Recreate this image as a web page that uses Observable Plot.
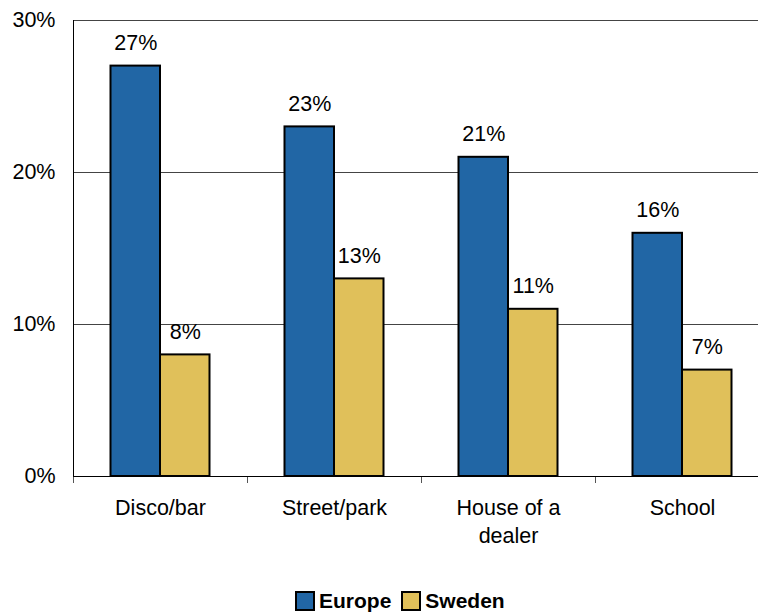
<!DOCTYPE html>
<html>
<head>
<meta charset="utf-8">
<script src="https://cdn.jsdelivr.net/npm/d3@7"></script>
<script src="https://cdn.jsdelivr.net/npm/@observablehq/plot@0.6"></script>
<style>
  html, body { margin: 0; padding: 0; background: white; }
  #wrap { position: relative; width: 758px; height: 613px; }
  #legend { position: absolute; left: 295px; top: 589px; height: 24px; display: flex; align-items: center;
    font-family: "Liberation Sans", Arial, sans-serif; font-weight: bold; font-size: 21px; color: #000; }
  .sw { width: 16px; height: 16px; border: 2px solid #000; display: inline-block; margin-right: 4px; }
  .item { display: flex; align-items: center; margin-right: 10px; }
</style>
</head>
<body>
<div id="wrap"><div id="chart"></div><div id="legend"></div></div>
<script>
const categories = ["Disco/bar", "Street/park", "House of a\ndealer", "School"];
const europe = [27, 23, 21, 16];
const sweden = [8, 13, 11, 7];
const yTicks = [0, 10, 20, 30];
const seriesNames = ["Europe", "Sweden"];
const seriesColors = ["#2166A5", "#E0C05A"];

const width = 758, height = 560, marginLeft = 73, marginRight = -11, marginTop = 20, marginBottom = 84;
const step = (width - marginLeft - marginRight) / categories.length;
const barW = 49.5;
const outer = step / 2 - barW;

const euRows = categories.map((c, i) => ({category: c, value: europe[i]}));
const swRows = categories.map((c, i) => ({category: c, value: sweden[i]}));
const font = 21.5;

const chart = Plot.plot({
  width, height, marginLeft, marginRight, marginTop, marginBottom,
  style: {fontFamily: "'Liberation Sans', Arial, sans-serif", background: "white", color: "black", overflow: "hidden"},
  x: {domain: categories, paddingInner: 0, paddingOuter: 0},
  y: {domain: [0, 30]},
  marks: [
    Plot.gridY(yTicks.filter(t => t > 0), {stroke: "#444", strokeOpacity: 1, strokeWidth: 1}),
    Plot.axisY(yTicks, {tickSize: 0, tickPadding: 18, tickFormat: d => d + "%", fontSize: font, label: null}),
    Plot.axisX({tickSize: 7, tickFormat: () => "", dx: -step / 2, stroke: "#555", label: null}),
    Plot.text(categories, {x: d => d, frameAnchor: "bottom", lineAnchor: "top", dy: 19, fontSize: font, lineHeight: 1.3}),
    Plot.barY(euRows, {x: "category", y: "value", fill: seriesColors[0], stroke: "#000", strokeWidth: 2, insetLeft: outer, insetRight: step / 2}),
    Plot.barY(swRows, {x: "category", y: "value", fill: seriesColors[1], stroke: "#000", strokeWidth: 2, insetLeft: step / 2, insetRight: outer}),
    Plot.ruleY([0], {stroke: "#000", strokeWidth: 1}),
    Plot.ruleX([categories[0]], {x: d => d, dx: -step / 2, y1: 0, y2: 30, stroke: "#000", strokeWidth: 1}),
    Plot.text(euRows, {x: "category", y: "value", text: d => d.value + "%", dx: -barW / 2, dy: -23, fontSize: font}),
    Plot.text(swRows, {x: "category", y: "value", text: d => d.value + "%", dx: barW / 2, dy: -23, fontSize: font})
  ]
});
document.getElementById("chart").appendChild(chart);

const legend = document.getElementById("legend");
seriesNames.forEach((name, i) => {
  const item = document.createElement("span");
  item.className = "item";
  const sw = document.createElement("span");
  sw.className = "sw";
  sw.style.background = seriesColors[i];
  item.appendChild(sw);
  item.appendChild(document.createTextNode(name));
  legend.appendChild(item);
});
</script>
</body>
</html>
